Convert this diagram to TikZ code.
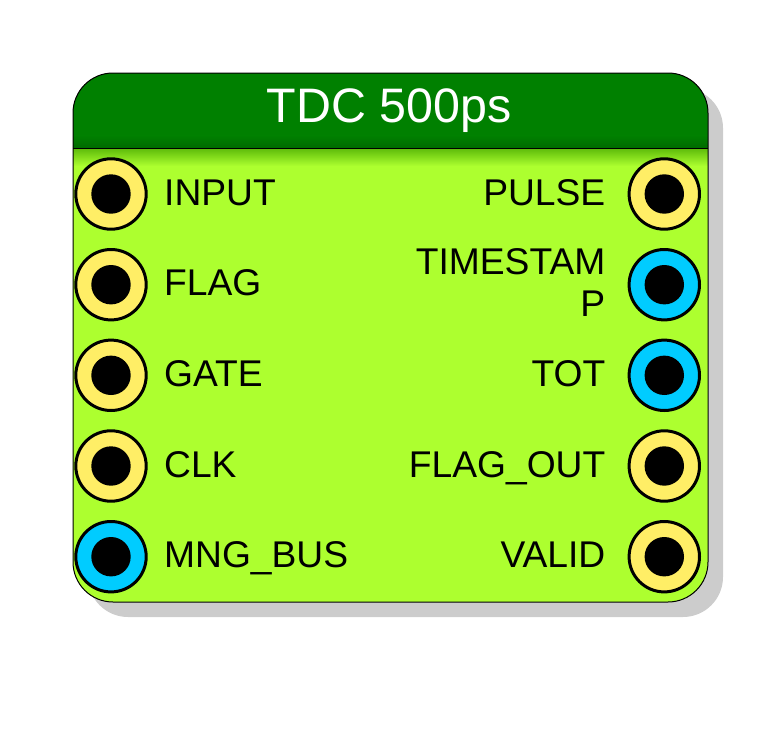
\documentclass[tikz,border=0pt]{standalone}
\usepackage{fontspec}
\setmainfont{Liberation Sans}
\definecolor{hdrgreen}{HTML}{008000}
\definecolor{hdrdark}{HTML}{006A00}
\definecolor{bodygreen}{HTML}{ADFF2F}
\definecolor{bodymid}{HTML}{5CBA0A}
\definecolor{portyellow}{HTML}{FFEE66}
\definecolor{portcyan}{HTML}{00CCFF}
\definecolor{shadowgray}{HTML}{CCCCCC}
\tikzset{
  port/.style={circle, draw=black, line width=3pt, minimum size=70.4pt, inner sep=0pt,
    path picture={\fill[black] (path picture bounding box.center) circle (19.7pt);}},
  portY/.style={port, fill=portyellow},
  portC/.style={port, fill=portcyan},
  lbl/.style={inner sep=0pt, font=\fontsize{37.2}{42.4}\selectfont, text=black},
  lblL/.style={lbl, anchor=base west},
  lblR/.style={lbl, anchor=base east, align=right},
  ttl/.style={inner sep=0pt, font=\fontsize{48.4}{56}\selectfont, text=white, anchor=base}
}
\begin{document}
\begin{tikzpicture}[x=1pt,y=-1pt]
\useasboundingbox (0,0) rectangle (782,731);
% shadow
\fill[shadowgray, rounded corners=40pt] (88,88) rectangle (723,617);
% body
\begin{scope}
  \clip[rounded corners=40pt] (73,73) rectangle (708,602);
  \fill[bodygreen] (73,73) rectangle (708,602);
  \fill[hdrgreen] (73,73) rectangle (708,136);
  \shade[top color=hdrgreen, bottom color=hdrdark] (73,135.5) rectangle (708,148);
  \shade[top color=bodymid, bottom color=bodygreen] (73,148) rectangle (708,166);
  \draw[black, line width=1pt] (73,148) -- (708,148);
\end{scope}
\draw[black, line width=1pt, rounded corners=40pt] (73,73) rectangle (708,602);
% title
\node[ttl] (title) at (389,122.7) {TDC 500ps};
% left ports
\node[portY] (pin1) at (111,194) {};
\node[portY] (pin2) at (111,284.7) {};
\node[portY] (pin3) at (111,375.3) {};
\node[portY] (pin4) at (111,466) {};
\node[portC] (pin5) at (111,556.7) {};
\node[lblL] (lin1) at (164,205) {INPUT};
\node[lblL] (lin2) at (164,295.7) {FLAG};
\node[lblL] (lin3) at (164,386.3) {GATE};
\node[lblL] (lin4) at (164,477) {CLK};
\node[lblL] (lin5) at (164,567.7) {MNG\_BUS};
% right ports
\node[portY] (pout1) at (664.3,194) {};
\node[portC] (pout2) at (664.3,284.7) {};
\node[portC] (pout3) at (664.3,375.3) {};
\node[portY] (pout4) at (664.3,466) {};
\node[portY] (pout5) at (664.3,556.7) {};
\node[lblR] (lout1) at (605.5,205) {PULSE};
\node[lblR] (lout2) at (605.5,316.7) {TIMESTAM\\P};
\node[lblR] (lout3) at (605.5,386.3) {TOT};
\node[lblR] (lout4) at (605.5,477) {FLAG\_OUT};
\node[lblR] (lout5) at (605.5,567.7) {VALID};
\end{tikzpicture}
\end{document}
